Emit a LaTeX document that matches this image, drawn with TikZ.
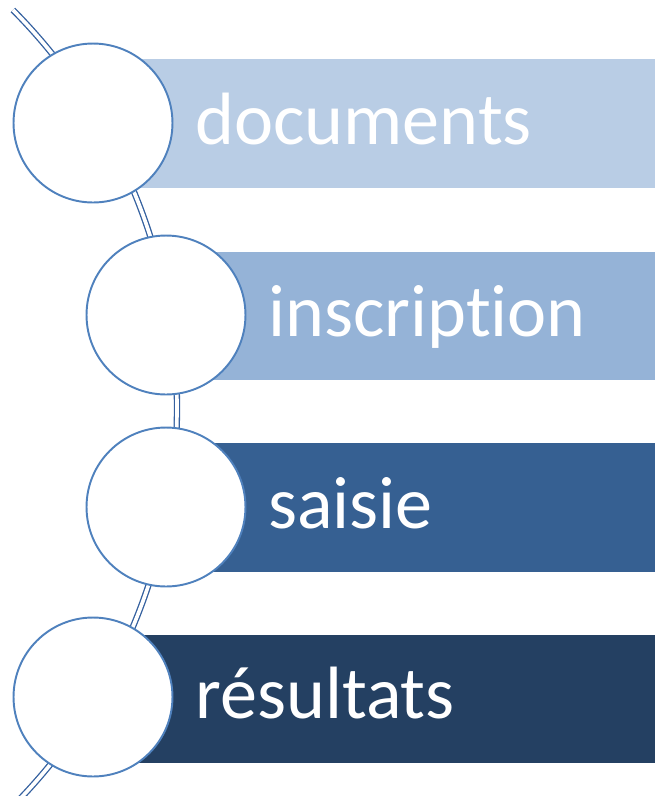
\documentclass[tikz,border=0pt]{standalone}
\usepackage{fontspec}
\setmainfont{Carlito}[Ligatures=NoCommon]
\usepackage{tikz}
\usetikzlibrary{positioning}
\definecolor{barone}{HTML}{B9CDE5}
\definecolor{bartwo}{HTML}{95B3D7}
\definecolor{barthree}{HTML}{366092}
\definecolor{barfour}{HTML}{244062}
\definecolor{ringblue}{HTML}{4F81BD}
\definecolor{wireblue}{HTML}{34609F}

\begin{document}
\begin{tikzpicture}[x=0.02cm,y=-0.02cm,
  ring/.style={circle,draw=ringblue,fill=white,line width=1.1pt,minimum size=3.18cm,inner sep=0pt},
  wire/.style={draw=wireblue,double=white,line width=0.75pt,double distance=2.1pt},
  caption/.style={anchor=base west,inner sep=0pt,text=white,font=\fontsize{42.2}{50}\selectfont}]
\useasboundingbox (0,0) rectangle (655,796);
\draw[wire] (-388,408) ++(-44.8:565) arc[start angle=-44.8,end angle=46,radius=565];
\fill[barone] (93,59) rectangle (655,188);
\fill[bartwo] (166,252) rectangle (655,380);
\fill[barthree] (166,443) rectangle (655,572);
\fill[barfour] (93,635) rectangle (655,763);
\node[ring] (c1) at (93,123) {};
\node[ring] (c2) at (166,315) {};
\node[ring] (c3) at (166,507) {};
\node[ring] (c4) at (93,697) {};
\node[caption] (t1) at ([xshift=2.04cm,yshift=-0.43cm]c1.center) {documents};
\node[caption] (t2) at ([xshift=2.04cm,yshift=-0.43cm]c2.center) {inscription};
\node[caption] (t3) at ([xshift=2.04cm,yshift=-0.43cm]c3.center) {saisie};
\node[caption] (t4) at ([xshift=2.04cm,yshift=-0.43cm]c4.center) {résultats};
\end{tikzpicture}
\end{document}
